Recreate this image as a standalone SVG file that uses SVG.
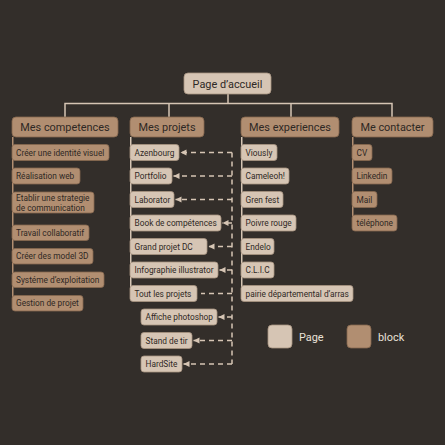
<svg xmlns="http://www.w3.org/2000/svg" width="445" height="445" viewBox="0 0 445 445">
<defs>
<style>
.pg{fill:#d6c5b4;stroke:#a89482;stroke-width:0.8}
.bk{fill:#b18e71;stroke:#86684f;stroke-width:0.8}
.t{font-family:Roboto,"Liberation Sans",sans-serif;font-size:8.3px;fill:#2e2824}
.h{font-family:Roboto,"Liberation Sans",sans-serif;font-size:10.9px;fill:#2e2824}
.lg{font-family:Roboto,"Liberation Sans",sans-serif;font-size:10.9px;fill:#e9e1d8}
.ln{fill:none;stroke:#d6c5b4;stroke-width:1.5}
.lnb{fill:none;stroke:#b18e71;stroke-width:1.5}
.ds{fill:none;stroke:#d6c5b4;stroke-width:1.5;stroke-dasharray:5 4}
</style>
<marker id="ar" markerUnits="userSpaceOnUse" markerWidth="7" markerHeight="7" refX="6" refY="3.5" orient="auto">
<path d="M0,0.5 L6,3.5 L0,6.5 Z" fill="#d6c5b4"/>
</marker>
</defs>
<rect width="445" height="445" fill="#332e2a"/>

<g id="connectors">
<path class="ln" d="M228,94 V103.5 M65,117 V103.5 H392 V117 M169,103.5 V117 M291,103.5 V117"/>
<path class="lnb" d="M12.75,137 V303"/>
<path class="ln" d="M130.75,137 V293"/>
<path class="ln" d="M241.75,137 V293"/>
<path class="lnb" d="M352.75,137 V223"/>
<path class="ds" d="M232,152.5 V364"/>
<path class="ds" d="M232,152.5 H180.5" marker-end="url(#ar)"/>
<path class="ds" d="M232,176 H173.5" marker-end="url(#ar)"/>
<path class="ds" d="M232,199.5 H175.5" marker-end="url(#ar)"/>
<path class="ds" d="M232,223 H222.5" marker-end="url(#ar)"/>
<path class="ds" d="M232,246.5 H208.5" marker-end="url(#ar)"/>
<path class="ds" d="M232,270 H219.5" marker-end="url(#ar)"/>
<path class="ds" d="M232,293.5 H201"/>
<path class="ds" d="M232,317 H218.5" marker-end="url(#ar)"/>
<path class="ds" d="M232,340.5 H193.5" marker-end="url(#ar)"/>
<path class="ds" d="M232,364 H183.5" marker-end="url(#ar)"/>
</g>

<g id="page-accueil"><rect class="pg" x="184" y="73" width="87" height="21" rx="4"/><text class="h" x="227.5" y="87.5" text-anchor="middle">Page d’accueil</text></g>

<g id="mes-competences"><rect class="bk" x="12" y="117" width="106" height="20" rx="4"/><text class="h" x="65" y="131" text-anchor="middle">Mes competences</text></g>
<g id="mes-projets"><rect class="bk" x="130" y="117" width="74" height="20" rx="4"/><text class="h" x="167" y="131" text-anchor="middle">Mes projets</text></g>
<g id="mes-experiences"><rect class="bk" x="241" y="117" width="98" height="20" rx="4"/><text class="h" x="290" y="131" text-anchor="middle">Mes experiences</text></g>
<g id="me-contacter"><rect class="bk" x="352" y="117" width="81" height="20" rx="4"/><text class="h" x="392.5" y="131" text-anchor="middle">Me contacter</text></g>

<g id="c1"><rect class="bk" x="12" y="144.5" width="97" height="16" rx="3"/><text class="t" x="16" y="155.5">Créer une identité visuel</text></g>
<g id="c2"><rect class="bk" x="12" y="168" width="68" height="16" rx="3"/><text class="t" x="16" y="179">Réalisation web</text></g>
<g id="c3"><rect class="bk" x="12" y="192" width="82" height="21" rx="3"/><text class="t" x="16" y="201">Etablir une strategie</text><text class="t" x="16" y="210.5">de communication</text></g>
<g id="c4"><rect class="bk" x="12" y="225" width="77" height="15.5" rx="3"/><text class="t" x="16" y="235.7">Travail collaboratif</text></g>
<g id="c5"><rect class="bk" x="12" y="248.5" width="81" height="15.5" rx="3"/><text class="t" x="16" y="259.2">Créer des model 3D</text></g>
<g id="c6"><rect class="bk" x="12" y="272" width="92" height="15.5" rx="3"/><text class="t" x="16" y="282.7">Systéme d’exploitation</text></g>
<g id="c7"><rect class="bk" x="12" y="295.5" width="71" height="15.5" rx="3"/><text class="t" x="16" y="306.2">Gestion de projet</text></g>

<g id="p1"><rect class="pg" x="130" y="144.5" width="49" height="16" rx="3"/><text class="t" x="134.5" y="155.5">Azenbourg</text></g>
<g id="p2"><rect class="pg" x="130" y="168" width="42" height="16" rx="3"/><text class="t" x="134.5" y="179">Portfolio</text></g>
<g id="p3"><rect class="pg" x="130" y="191.5" width="44" height="16" rx="3"/><text class="t" x="134.5" y="202.5">Laborator</text></g>
<g id="p4"><rect class="pg" x="130" y="215" width="91" height="16" rx="3"/><text class="t" x="134.5" y="226">Book de compétences</text></g>
<g id="p5"><rect class="pg" x="130" y="238.5" width="77" height="16" rx="3"/><text class="t" x="134.5" y="249.5">Grand projet DC</text></g>
<g id="p6"><rect class="pg" x="130" y="262" width="88" height="16" rx="3"/><text class="t" x="134.5" y="273">Infographie illustrator</text></g>
<g id="p7"><rect class="pg" x="130" y="285.5" width="67" height="16" rx="3"/><text class="t" x="134.5" y="296.5">Tout les projets</text></g>
<g id="p8"><rect class="pg" x="141" y="309" width="76" height="16" rx="3"/><text class="t" x="145.5" y="320">Affiche photoshop</text></g>
<g id="p9"><rect class="pg" x="141" y="332.5" width="51" height="16" rx="3"/><text class="t" x="145.5" y="343.5">Stand de tir</text></g>
<g id="p10"><rect class="pg" x="141" y="356" width="41" height="16" rx="3"/><text class="t" x="145.5" y="367">HardSite</text></g>

<g id="e1"><rect class="pg" x="241" y="144.5" width="36" height="16" rx="3"/><text class="t" x="245.5" y="155.5">Viously</text></g>
<g id="e2"><rect class="pg" x="241" y="168" width="48" height="16" rx="3"/><text class="t" x="245.5" y="179">Cameleoh!</text></g>
<g id="e3"><rect class="pg" x="241" y="191.5" width="42" height="16" rx="3"/><text class="t" x="245.5" y="202.5">Gren fest</text></g>
<g id="e4"><rect class="pg" x="241" y="215" width="55" height="16" rx="3"/><text class="t" x="245.5" y="226">Poivre rouge</text></g>
<g id="e5"><rect class="pg" x="241" y="238.5" width="33" height="16" rx="3"/><text class="t" x="245.5" y="249.5">Endelo</text></g>
<g id="e6"><rect class="pg" x="241" y="262" width="33" height="16" rx="3"/><text class="t" x="245.5" y="273">C.L.I.C</text></g>
<g id="e7"><rect class="pg" x="241" y="285.5" width="112" height="16" rx="3"/><text class="t" x="245.5" y="296.5">pairie départemental d’arras</text></g>

<g id="k1"><rect class="bk" x="352" y="144.5" width="20" height="16" rx="3"/><text class="t" x="356.5" y="155.5">CV</text></g>
<g id="k2"><rect class="bk" x="352" y="168" width="40" height="16" rx="3"/><text class="t" x="356.5" y="179">Linkedin</text></g>
<g id="k3"><rect class="bk" x="352" y="191.5" width="25" height="16" rx="3"/><text class="t" x="356.5" y="202.5">Mail</text></g>
<g id="k4"><rect class="bk" x="352" y="215" width="45" height="16" rx="3"/><text class="t" x="356.5" y="226">téléphone</text></g>

<g id="legend-page"><rect class="pg" x="268" y="325" width="24" height="23" rx="4"/><text class="lg" x="299" y="341">Page</text></g>
<g id="legend-block"><rect class="bk" x="347" y="325" width="24" height="23" rx="4"/><text class="lg" x="378" y="341">block</text></g>
</svg>
